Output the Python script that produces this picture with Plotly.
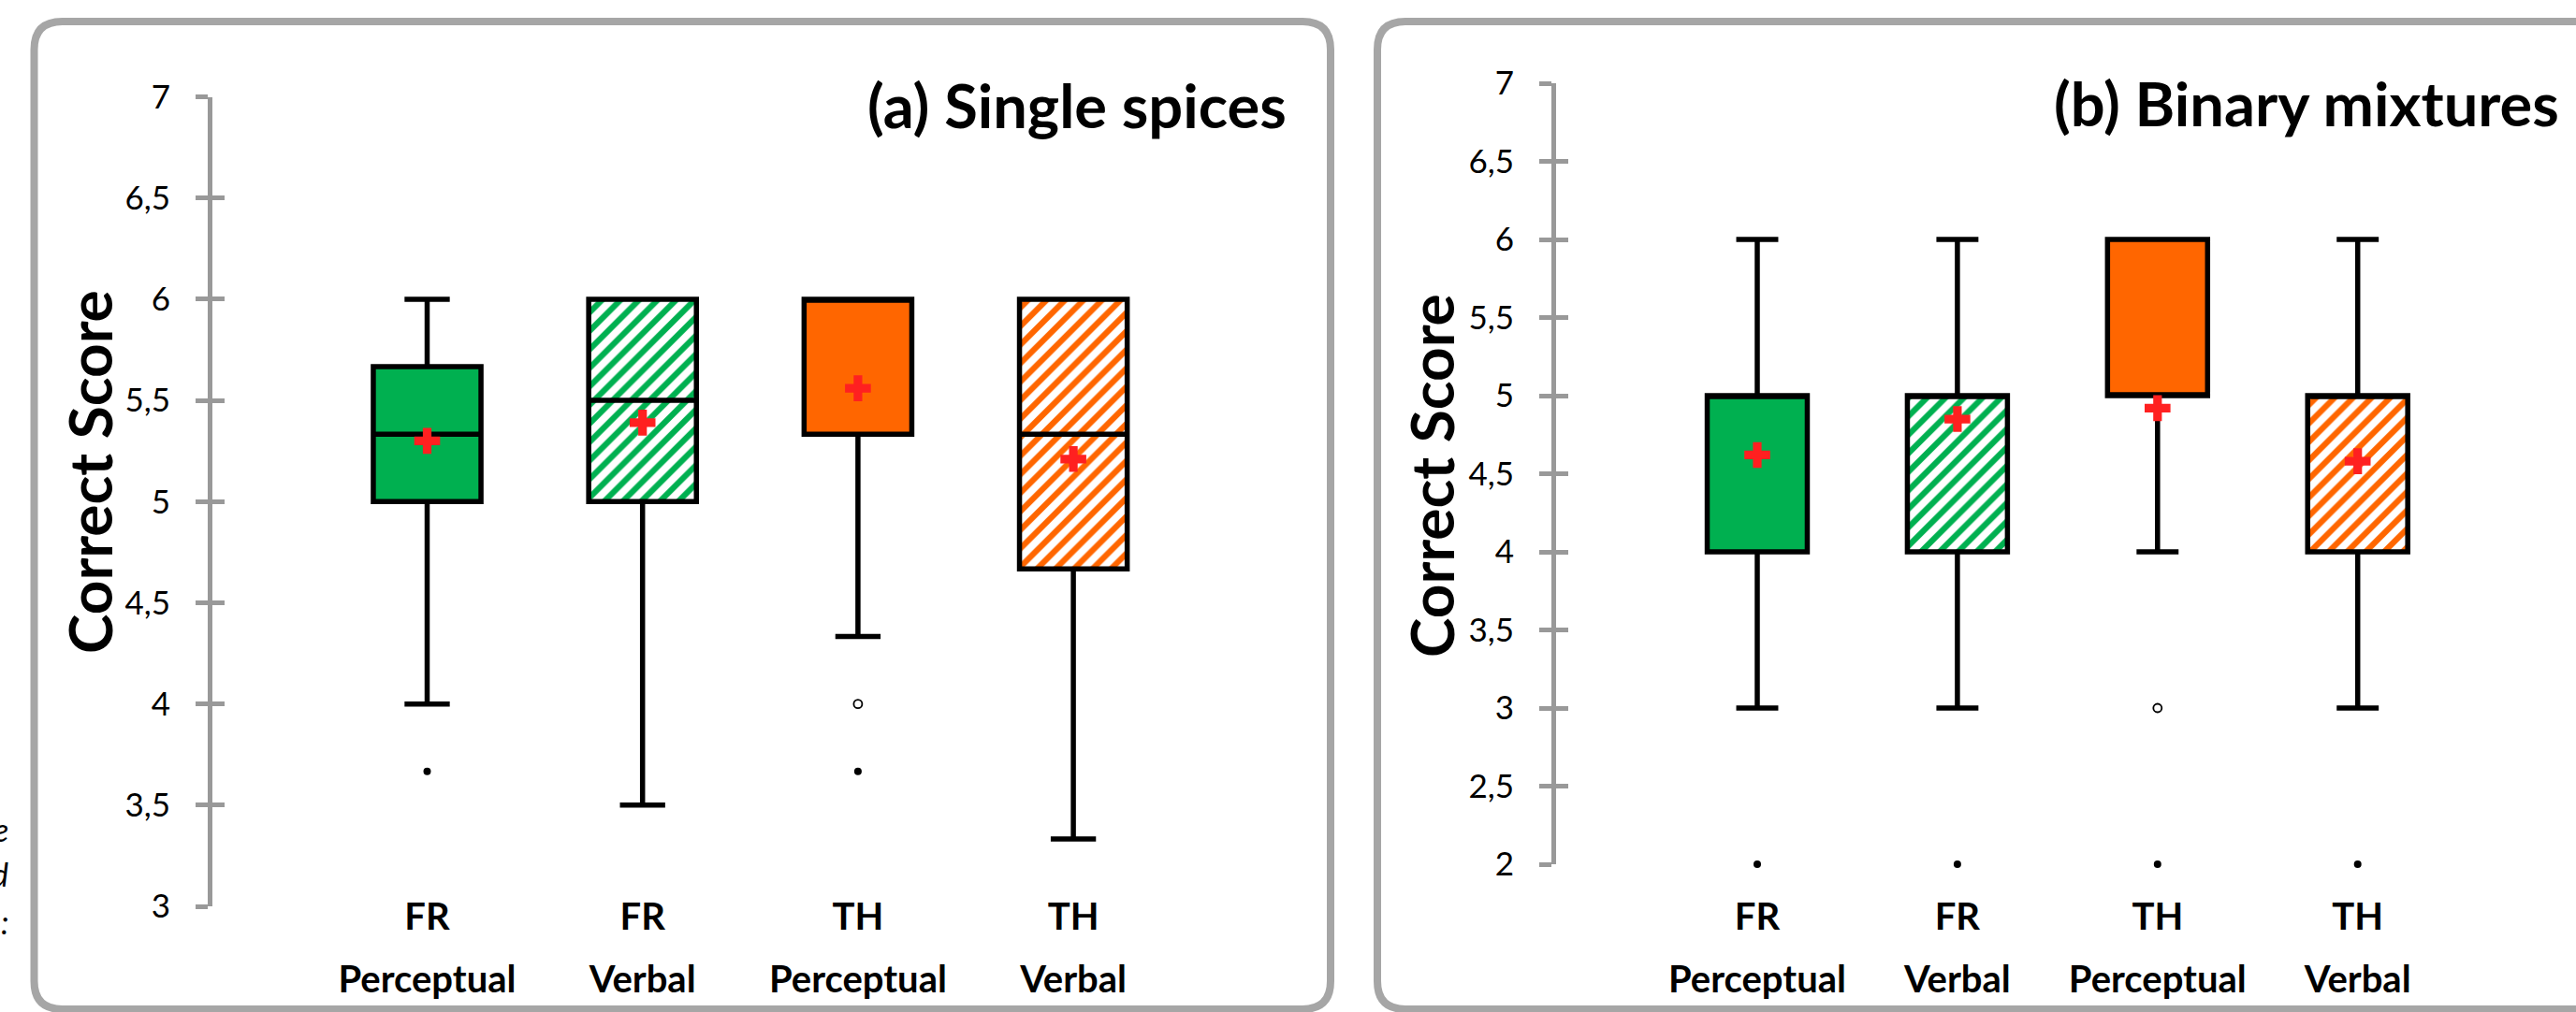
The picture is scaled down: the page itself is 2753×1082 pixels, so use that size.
import plotly.graph_objects as go

W, H = 2753, 1082

# ---------------- data ----------------
groups = ["FR", "FR", "TH", "TH"]
modes = ["Perceptual", "Verbal", "Perceptual", "Verbal"]

# (a) Single spices
a_low = [4.0, 3.5, 4.333, 3.333]
a_q1 = [5.0, 5.0, 5.333, 4.667]
a_med = [5.333, 5.5, 6.0, 5.333]
a_q3 = [5.667, 6.0, 6.0, 6.0]
a_high = [6.0, 6.0, 6.0, 6.0]
a_mean = [5.30, 5.39, 5.56, 5.21]
a_out_filled_x = [0, 2]
a_out_filled_y = [3.667, 3.667]
a_out_open_x = [2]
a_out_open_y = [4.0]

# (b) Binary mixtures
b_low = [3.0, 3.0, 4.0, 3.0]
b_q1 = [4.0, 4.0, 5.0, 4.0]
b_med = [5.0, 5.0, 5.0, 5.0]
b_q3 = [5.0, 5.0, 6.0, 5.0]
b_high = [6.0, 6.0, 6.0, 6.0]
b_mean = [4.62, 4.85, 4.92, 4.58]
b_out_filled_x = [0, 1, 2, 3]
b_out_filled_y = [2.0, 2.0, 2.0, 2.0]
b_out_open_x = [2]
b_out_open_y = [3.0]

panel_titles = ["(a) Single spices", "(b) Binary mixtures"]
y_title = "Correct Score"

# ---------------- styles ----------------
GREEN = "#00B050"
ORANGE = "#FF6600"
solid_fill = [GREEN, None, ORANGE, None]
hatch_color = [None, GREEN, None, ORANGE]
AXIS_GRAY = "#999999"
FRAME_GRAY = "#A6A6A6"
MEAN_RED = "#FF2020"
FONT = "Lato"
LW = 5.5


def px_x(p):
    return p / W


def px_y(p):
    return 1 - p / H


fig = go.Figure()

n = len(groups)
pos = list(range(n))

panels = [
    dict(low=a_low, q1=a_q1, med=a_med, q3=a_q3, high=a_high, mean=a_mean,
         ofx=a_out_filled_x, ofy=a_out_filled_y, oox=a_out_open_x, ooy=a_out_open_y,
         xa="x", ya="y", ya2="y3"),
    dict(low=b_low, q1=b_q1, med=b_med, q3=b_q3, high=b_high, mean=b_mean,
         ofx=b_out_filled_x, ofy=b_out_filled_y, oox=b_out_open_x, ooy=b_out_open_y,
         xa="x2", ya="y2", ya2="y4"),
]

for p in panels:
    # hatched boxes underneath
    for i in range(n):
        if hatch_color[i]:
            fig.add_trace(go.Bar(
                x=[i], y=[p["q3"][i] - p["q1"][i]], base=[p["q1"][i]], width=0.5,
                marker=dict(color="white", line=dict(width=0),
                            pattern=dict(shape="/", fgcolor=hatch_color[i], bgcolor="white",
                                         fgopacity=1, size=14, solidity=0.45)),
                xaxis=p["xa"], yaxis=p["ya"], showlegend=False, hoverinfo="skip"))
    for i in range(n):
        fig.add_trace(go.Box(
            x=[i], q1=[p["q1"][i]], median=[p["med"][i]], q3=[p["q3"][i]],
            lowerfence=[p["low"][i]], upperfence=[p["high"][i]],
            width=0.5, whiskerwidth=0.42, boxpoints=False,
            fillcolor=solid_fill[i] if solid_fill[i] else "rgba(0,0,0,0)",
            line=dict(color="black", width=LW),
            xaxis=p["xa"], yaxis=p["ya"], showlegend=False))
    fig.add_trace(go.Scatter(
        x=p["ofx"], y=p["ofy"], mode="markers", cliponaxis=False,
        marker=dict(color="black", size=8, symbol="circle"),
        xaxis=p["xa"], yaxis=p["ya2"], showlegend=False))
    fig.add_trace(go.Scatter(
        x=p["oox"], y=p["ooy"], mode="markers", cliponaxis=False,
        marker=dict(color="white", size=9, symbol="circle", line=dict(color="black", width=1.8)),
        xaxis=p["xa"], yaxis=p["ya2"], showlegend=False))

# ---------------- geometry ----------------
xr_a = [(227 - 456.5) / 230.2, (1399 - 456.5) / 230.2]
xr_b = [(1663 - 1878) / 213.9, (2753 - 1878) / 213.9]
xd_a = [px_x(227), px_x(1399)]
xd_b = [px_x(1663), px_x(2753)]
yd_a = [px_y(969), px_y(103.5)]
yd_b = [px_y(924), px_y(89)]

tickfont_y = dict(family=FONT, size=35, color="black")
tickfont_x = dict(family=FONT, size=40, color="black", weight="bold")

common_y = dict(showgrid=False, zeroline=False, showline=True, linecolor=AXIS_GRAY, linewidth=5,
                ticks="outside", ticklen=13, tickwidth=5, tickcolor=AXIS_GRAY, dtick=0.5,
                tickfont=tickfont_y, ticklabelstandoff=20, automargin=False)
overlay_y = dict(showgrid=False, zeroline=False, showline=False, showticklabels=False,
                 ticks="inside", ticklen=13, tickwidth=5, tickcolor=AXIS_GRAY, dtick=0.5,
                 automargin=False)
common_x = dict(showgrid=False, zeroline=False, showline=False, ticks="",
                tickvals=pos, tickfont=tickfont_x, anchor="free", automargin=False)

fig.update_layout(
    width=W, height=H, margin=dict(l=0, r=0, t=0, b=0, autoexpand=False),
    paper_bgcolor="white", plot_bgcolor="rgba(0,0,0,0)",
    separators=", ", barmode="overlay", boxmode="overlay", showlegend=False,
    font=dict(family=FONT, color="black"),
    xaxis=dict(domain=xd_a, range=xr_a, position=px_y(953), ticktext=groups, **common_x),
    xaxis2=dict(domain=xd_b, range=xr_b, position=px_y(953), ticktext=groups, **common_x),
    xaxis3=dict(domain=xd_a, range=xr_a, position=px_y(1020), ticktext=modes,
                overlaying="x", **common_x),
    xaxis4=dict(domain=xd_b, range=xr_b, position=px_y(1020), ticktext=modes,
                overlaying="x2", **common_x),
    yaxis=dict(domain=yd_a, range=[3, 7], anchor="x", **common_y),
    yaxis2=dict(domain=yd_b, range=[2, 7], anchor="x2", **common_y),
    yaxis3=dict(domain=yd_a, range=[3, 7], anchor="x", overlaying="y", **overlay_y),
    yaxis4=dict(domain=yd_b, range=[2, 7], anchor="x2", overlaying="y2", **overlay_y),
)

# mean markers, drawn on the overlaying axes (which also carry the second label line)
for xa, ya, p in [("x3", "y3", panels[0]), ("x4", "y4", panels[1])]:
    fig.add_trace(go.Scatter(x=pos, y=p["mean"], mode="markers",
                             marker=dict(color=MEAN_RED, size=23, symbol="cross", line=dict(width=0)),
                             cliponaxis=False, xaxis=xa, yaxis=ya, showlegend=False))


# ---------------- frames ----------------
def rounded_frame(x0, y0, x1, y1, r):
    X = px_x
    Y = px_y
    return (f"M {X(x0 + r)},{Y(y0)} L {X(x1 - r)},{Y(y0)} Q {X(x1)},{Y(y0)} {X(x1)},{Y(y0 + r)} "
            f"L {X(x1)},{Y(y1 - r)} Q {X(x1)},{Y(y1)} {X(x1 - r)},{Y(y1)} "
            f"L {X(x0 + r)},{Y(y1)} Q {X(x0)},{Y(y1)} {X(x0)},{Y(y1 - r)} "
            f"L {X(x0)},{Y(y0 + r)} Q {X(x0)},{Y(y0)} {X(x0 + r)},{Y(y0)} Z")


fig.add_shape(type="path", path=rounded_frame(36.5, 23, 1422, 1079, 30), xref="paper", yref="paper",
              line=dict(color=FRAME_GRAY, width=8), layer="below")
fig.add_shape(type="path", path=rounded_frame(1472, 23, 2830, 1079, 30), xref="paper", yref="paper",
              line=dict(color=FRAME_GRAY, width=8), layer="below")

# ---------------- texts ----------------
fig.add_annotation(text=panel_titles[0], x=px_x(1377), y=px_y(112), xref="paper", yref="paper",
                   xanchor="right", yanchor="middle", showarrow=False,
                   font=dict(family=FONT, size=65, color="black", weight="bold"))
fig.add_annotation(text=panel_titles[1], x=px_x(2737), y=px_y(110), xref="paper", yref="paper",
                   xanchor="right", yanchor="middle", showarrow=False,
                   font=dict(family=FONT, size=65, color="black", weight="bold"))
for cx, cy in [(95, 505), (1530, 508)]:
    fig.add_annotation(text=y_title, x=px_x(cx), y=px_y(cy), xref="paper", yref="paper",
                       xanchor="center", yanchor="middle", textangle=-90, showarrow=False,
                       font=dict(family=FONT, size=64, color="black", weight="bold"))

# cut-off italic text at the far left edge
for ch, cy in [("e", 886), ("d", 934), (":", 985)]:
    fig.add_annotation(text=ch, x=px_x(11), y=px_y(cy), xref="paper", yref="paper",
                       xanchor="right", yanchor="middle", showarrow=False,
                       font=dict(family=FONT, size=34, color="black", style="italic"))

fig.write_html("out.html", config={"displayModeBar": False},
               post_script="document.body.style.margin='0';document.body.style.overflow='hidden';")
